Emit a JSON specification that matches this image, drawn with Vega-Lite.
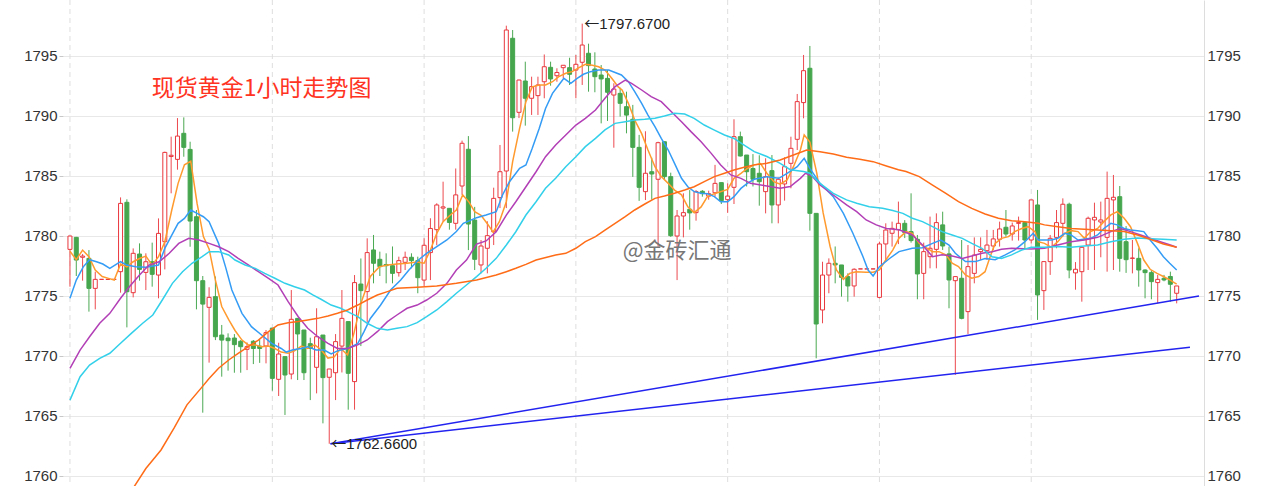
{
"$schema": "https://vega.github.io/schema/vega-lite/v6.json",
"width": 1141, "height": 486,
"autosize": {"type": "none"},
"padding": {"left": 63, "right": 64, "top": 0, "bottom": 0},
"background": "white",
"config": {"view": {"stroke": null}},
"datasets": {
"k": [
{"i":0,"o":1778.86,"h":1780.0,"l":1775.75,"c":1779.97},
{"i":1,"o":1779.86,"h":1779.9,"l":1776.64,"c":1777.97},
{"i":2,"o":1778.2,"h":1778.47,"l":1776.25,"c":1778.3},
{"i":3,"o":1778.11,"h":1778.8,"l":1773.67,"c":1775.61},
{"i":4,"o":1775.61,"h":1777.0,"l":1773.86,"c":1776.36},
{"i":5,"o":1776.36,"h":1776.36,"l":1776.36,"c":1776.36},
{"i":6,"o":1776.36,"h":1776.36,"l":1776.36,"c":1776.36},
{"i":7,"o":1776.36,"h":1776.36,"l":1776.36,"c":1776.36},
{"i":8,"o":1777.0,"h":1783.19,"l":1775.25,"c":1782.69},
{"i":9,"o":1782.78,"h":1783.03,"l":1772.36,"c":1775.33},
{"i":10,"o":1775.25,"h":1778.94,"l":1774.86,"c":1778.53},
{"i":11,"o":1778.47,"h":1779.36,"l":1776.25,"c":1777.19},
{"i":12,"o":1776.94,"h":1778.53,"l":1775.47,"c":1777.83},
{"i":13,"o":1777.83,"h":1779.42,"l":1775.75,"c":1776.78},
{"i":14,"o":1776.72,"h":1781.44,"l":1774.78,"c":1780.19},
{"i":15,"o":1779.5,"h":1787.0,"l":1777.19,"c":1786.94},
{"i":16,"o":1786.6,"h":1788.25,"l":1783.53,"c":1786.7},
{"i":17,"o":1786.36,"h":1789.8,"l":1785.5,"c":1788.3},
{"i":18,"o":1788.53,"h":1789.86,"l":1786.58,"c":1787.36},
{"i":19,"o":1787.19,"h":1787.83,"l":1779.08,"c":1781.22},
{"i":20,"o":1781.58,"h":1782.14,"l":1773.86,"c":1776.25},
{"i":21,"o":1776.25,"h":1776.64,"l":1765.25,"c":1774.3},
{"i":22,"o":1774.03,"h":1775.7,"l":1769.42,"c":1774.86},
{"i":23,"o":1774.92,"h":1776.6,"l":1771.3,"c":1771.58},
{"i":24,"o":1771.72,"h":1772.56,"l":1768.25,"c":1771.3},
{"i":25,"o":1771.47,"h":1771.86,"l":1768.75,"c":1771.25},
{"i":26,"o":1771.47,"h":1771.8,"l":1768.58,"c":1770.92},
{"i":27,"o":1771.2,"h":1771.3,"l":1768.58,"c":1770.75},
{"i":28,"o":1770.53,"h":1771.1,"l":1768.8,"c":1770.75},
{"i":29,"o":1771.2,"h":1771.3,"l":1769.3,"c":1770.6},
{"i":30,"o":1770.8,"h":1771.3,"l":1769.4,"c":1770.6},
{"i":31,"o":1770.81,"h":1772.14,"l":1769.36,"c":1771.92},
{"i":32,"o":1772.3,"h":1772.3,"l":1767.08,"c":1768.11},
{"i":33,"o":1768.03,"h":1771.08,"l":1766.64,"c":1770.14},
{"i":34,"o":1769.92,"h":1769.92,"l":1765.06,"c":1768.39},
{"i":35,"o":1768.47,"h":1775.47,"l":1768.03,"c":1773.03},
{"i":36,"o":1773.11,"h":1773.11,"l":1767.97,"c":1771.81},
{"i":37,"o":1772.14,"h":1772.14,"l":1767.97,"c":1768.58},
{"i":38,"o":1771.0,"h":1771.5,"l":1766.3,"c":1770.6},
{"i":39,"o":1769.03,"h":1773.95,"l":1766.86,"c":1771.58},
{"i":40,"o":1771.72,"h":1771.72,"l":1764.36,"c":1768.17},
{"i":41,"o":1768.2,"h":1768.9,"l":1762.66,"c":1768.89},
{"i":42,"o":1768.58,"h":1771.8,"l":1766.3,"c":1771.17},
{"i":43,"o":1770.8,"h":1775.47,"l":1768.6,"c":1773.11},
{"i":44,"o":1772.84,"h":1772.84,"l":1765.5,"c":1768.53},
{"i":45,"o":1767.84,"h":1776.72,"l":1765.5,"c":1776.09},
{"i":46,"o":1775.97,"h":1778.1,"l":1770.8,"c":1775.42},
{"i":47,"o":1775.34,"h":1779.78,"l":1772.75,"c":1778.59},
{"i":48,"o":1778.81,"h":1780.06,"l":1776.03,"c":1777.7},
{"i":49,"o":1778.03,"h":1778.67,"l":1776.64,"c":1777.42},
{"i":50,"o":1777.6,"h":1778.53,"l":1776.03,"c":1777.5},
{"i":51,"o":1777.5,"h":1779.1,"l":1776.03,"c":1776.86},
{"i":52,"o":1776.92,"h":1778.25,"l":1776.59,"c":1777.92},
{"i":53,"o":1777.78,"h":1778.67,"l":1777.14,"c":1778.2},
{"i":54,"o":1778.2,"h":1778.53,"l":1777.28,"c":1777.92},
{"i":55,"o":1777.92,"h":1778.25,"l":1775.2,"c":1776.5},
{"i":56,"o":1776.3,"h":1779.78,"l":1775.8,"c":1779.2},
{"i":57,"o":1778.59,"h":1781.45,"l":1776.3,"c":1780.6},
{"i":58,"o":1780.5,"h":1782.7,"l":1779.2,"c":1782.56},
{"i":59,"o":1782.3,"h":1784.5,"l":1781.17,"c":1782.4},
{"i":60,"o":1782.28,"h":1782.28,"l":1780.5,"c":1781.1},
{"i":61,"o":1781.03,"h":1785.6,"l":1780.5,"c":1783.4},
{"i":62,"o":1784.14,"h":1787.92,"l":1783.4,"c":1787.7},
{"i":63,"o":1787.2,"h":1788.3,"l":1778.8,"c":1780.97},
{"i":64,"o":1781.3,"h":1782.4,"l":1777.14,"c":1778.03},
{"i":65,"o":1777.56,"h":1779.64,"l":1776.86,"c":1779.14},
{"i":66,"o":1778.95,"h":1781.2,"l":1776.86,"c":1780.0},
{"i":67,"o":1780.33,"h":1784.0,"l":1779.22,"c":1783.11},
{"i":68,"o":1783.17,"h":1787.56,"l":1782.3,"c":1785.33},
{"i":69,"o":1785.39,"h":1797.5,"l":1782.3,"c":1797.14},
{"i":70,"o":1796.45,"h":1797.14,"l":1788.67,"c":1789.83},
{"i":71,"o":1790.28,"h":1793.0,"l":1789.8,"c":1792.97},
{"i":72,"o":1792.89,"h":1794.5,"l":1789.17,"c":1791.45},
{"i":73,"o":1791.45,"h":1793.25,"l":1790.06,"c":1792.42},
{"i":74,"o":1791.67,"h":1793.25,"l":1790.06,"c":1792.56},
{"i":75,"o":1792.83,"h":1795.1,"l":1791.45,"c":1794.08},
{"i":76,"o":1794.03,"h":1794.5,"l":1792.5,"c":1793.06},
{"i":77,"o":1793.33,"h":1793.95,"l":1792.83,"c":1793.6},
{"i":78,"o":1794.0,"h":1794.22,"l":1793.11,"c":1794.2},
{"i":79,"o":1794.0,"h":1794.83,"l":1792.56,"c":1793.45},
{"i":80,"o":1793.8,"h":1795.06,"l":1791.45,"c":1794.28},
{"i":81,"o":1794.45,"h":1797.67,"l":1792.56,"c":1795.89},
{"i":82,"o":1795.2,"h":1796.0,"l":1792.0,"c":1794.17},
{"i":83,"o":1793.89,"h":1795.28,"l":1791.95,"c":1793.25},
{"i":84,"o":1793.39,"h":1794.22,"l":1789.36,"c":1793.06},
{"i":85,"o":1793.11,"h":1793.8,"l":1789.56,"c":1791.95},
{"i":86,"o":1791.72,"h":1792.7,"l":1787.33,"c":1792.22},
{"i":87,"o":1791.86,"h":1792.33,"l":1789.92,"c":1791.03},
{"i":88,"o":1790.75,"h":1792.0,"l":1788.53,"c":1790.05},
{"i":89,"o":1789.7,"h":1790.9,"l":1784.9,"c":1787.36},
{"i":90,"o":1787.36,"h":1788.4,"l":1782.9,"c":1784.03},
{"i":91,"o":1783.67,"h":1788.7,"l":1782.97,"c":1785.2},
{"i":92,"o":1785.33,"h":1786.5,"l":1783.0,"c":1785.14},
{"i":93,"o":1784.7,"h":1787.83,"l":1779.08,"c":1787.75},
{"i":94,"o":1787.83,"h":1787.83,"l":1784.7,"c":1784.92},
{"i":95,"o":1784.92,"h":1785.25,"l":1779.9,"c":1780.0},
{"i":96,"o":1779.97,"h":1782.14,"l":1776.3,"c":1781.64},
{"i":97,"o":1781.64,"h":1783.53,"l":1779.86,"c":1781.92},
{"i":98,"o":1782.2,"h":1783.8,"l":1780.5,"c":1781.9},
{"i":99,"o":1781.92,"h":1783.8,"l":1781.25,"c":1783.67},
{"i":100,"o":1783.7,"h":1783.8,"l":1783.25,"c":1783.5},
{"i":101,"o":1783.3,"h":1783.75,"l":1783.0,"c":1783.5},
{"i":102,"o":1783.58,"h":1785.9,"l":1783.25,"c":1784.36},
{"i":103,"o":1784.42,"h":1784.42,"l":1782.64,"c":1782.92},
{"i":104,"o":1783.0,"h":1784.36,"l":1781.9,"c":1783.3},
{"i":105,"o":1784.03,"h":1789.7,"l":1782.64,"c":1788.25},
{"i":106,"o":1788.25,"h":1788.67,"l":1786.6,"c":1786.64},
{"i":107,"o":1786.72,"h":1786.72,"l":1784.1,"c":1785.33},
{"i":108,"o":1785.6,"h":1786.8,"l":1784.1,"c":1784.7},
{"i":109,"o":1785.2,"h":1786.7,"l":1782.5,"c":1784.5},
{"i":110,"o":1783.67,"h":1786.45,"l":1781.86,"c":1784.92},
{"i":111,"o":1785.42,"h":1786.72,"l":1781.03,"c":1782.56},
{"i":112,"o":1782.56,"h":1784.86,"l":1781.03,"c":1784.7},
{"i":113,"o":1784.31,"h":1786.53,"l":1782.92,"c":1785.75},
{"i":114,"o":1786.03,"h":1788.25,"l":1783.95,"c":1787.28},
{"i":115,"o":1788.03,"h":1791.81,"l":1787.14,"c":1791.17},
{"i":116,"o":1791.09,"h":1795.06,"l":1789.78,"c":1793.75},
{"i":117,"o":1793.95,"h":1795.81,"l":1780.42,"c":1781.86},
{"i":118,"o":1781.86,"h":1781.86,"l":1769.78,"c":1772.64},
{"i":119,"o":1773.81,"h":1777.83,"l":1772.7,"c":1776.72},
{"i":120,"o":1776.72,"h":1778.11,"l":1775.2,"c":1777.7},
{"i":121,"o":1777.7,"h":1779.1,"l":1776.03,"c":1777.56},
{"i":122,"o":1777.56,"h":1777.56,"l":1774.92,"c":1776.53},
{"i":123,"o":1776.59,"h":1776.86,"l":1774.5,"c":1775.81},
{"i":124,"o":1775.81,"h":1777.28,"l":1774.92,"c":1777.2},
{"i":125,"o":1777.23,"h":1777.23,"l":1777.23,"c":1777.23},
{"i":126,"o":1777.23,"h":1777.23,"l":1777.23,"c":1777.23},
{"i":127,"o":1777.23,"h":1777.23,"l":1777.23,"c":1777.23},
{"i":128,"o":1774.86,"h":1779.5,"l":1774.78,"c":1779.31},
{"i":129,"o":1779.31,"h":1781.03,"l":1777.84,"c":1780.47},
{"i":130,"o":1780.2,"h":1781.17,"l":1779.09,"c":1780.61},
{"i":131,"o":1780.5,"h":1782.84,"l":1779.3,"c":1781.03},
{"i":132,"o":1781.03,"h":1781.3,"l":1779.8,"c":1780.25},
{"i":133,"o":1780.34,"h":1783.53,"l":1779.42,"c":1779.59},
{"i":134,"o":1779.7,"h":1780.06,"l":1774.7,"c":1776.81},
{"i":135,"o":1776.86,"h":1779.42,"l":1774.7,"c":1778.67},
{"i":136,"o":1778.25,"h":1781.59,"l":1777.28,"c":1778.95},
{"i":137,"o":1778.86,"h":1781.86,"l":1777.28,"c":1781.09},
{"i":138,"o":1780.9,"h":1782.0,"l":1778.81,"c":1779.14},
{"i":139,"o":1778.48,"h":1779.09,"l":1773.95,"c":1776.31},
{"i":140,"o":1776.25,"h":1776.59,"l":1768.4,"c":1776.59},
{"i":141,"o":1776.45,"h":1779.64,"l":1773.03,"c":1773.11},
{"i":142,"o":1773.67,"h":1779.22,"l":1771.81,"c":1777.42},
{"i":143,"o":1776.86,"h":1779.86,"l":1776.03,"c":1778.39},
{"i":144,"o":1778.67,"h":1779.86,"l":1777.98,"c":1778.86},
{"i":145,"o":1778.75,"h":1780.48,"l":1777.98,"c":1779.22},
{"i":146,"o":1779.14,"h":1780.48,"l":1778.81,"c":1779.73},
{"i":147,"o":1779.7,"h":1781.17,"l":1779.09,"c":1780.56},
{"i":148,"o":1780.7,"h":1782.14,"l":1779.92,"c":1780.14},
{"i":149,"o":1780.14,"h":1781.09,"l":1779.59,"c":1780.81},
{"i":150,"o":1781.03,"h":1781.59,"l":1779.59,"c":1781.09},
{"i":151,"o":1781.09,"h":1781.17,"l":1778.95,"c":1779.64},
{"i":152,"o":1779.64,"h":1782.98,"l":1779.36,"c":1782.98},
{"i":153,"o":1782.56,"h":1783.81,"l":1772.98,"c":1775.06},
{"i":154,"o":1775.42,"h":1777.84,"l":1773.81,"c":1777.84},
{"i":155,"o":1777.84,"h":1780.06,"l":1776.73,"c":1779.78},
{"i":156,"o":1779.86,"h":1782.14,"l":1778.95,"c":1781.09},
{"i":157,"o":1781.03,"h":1783.11,"l":1779.92,"c":1782.62},
{"i":158,"o":1782.62,"h":1782.75,"l":1776.45,"c":1777.14},
{"i":159,"o":1776.9,"h":1777.8,"l":1775.5,"c":1777.2},
{"i":160,"o":1777.0,"h":1779.03,"l":1774.5,"c":1779.03},
{"i":161,"o":1779.22,"h":1781.59,"l":1777.14,"c":1781.45},
{"i":162,"o":1781.31,"h":1782.75,"l":1777.14,"c":1781.53},
{"i":163,"o":1781.14,"h":1782.84,"l":1778.2,"c":1781.31},
{"i":164,"o":1779.86,"h":1785.34,"l":1777.0,"c":1783.11},
{"i":165,"o":1782.98,"h":1785.06,"l":1777.14,"c":1783.2},
{"i":166,"o":1783.25,"h":1784.14,"l":1777.0,"c":1778.11},
{"i":167,"o":1779.5,"h":1780.8,"l":1776.9,"c":1778.0},
{"i":168,"o":1778.11,"h":1779.64,"l":1776.86,"c":1778.14},
{"i":169,"o":1778.11,"h":1778.95,"l":1775.75,"c":1777.14},
{"i":170,"o":1777.14,"h":1777.2,"l":1774.78,"c":1776.92},
{"i":171,"o":1776.92,"h":1777.14,"l":1774.7,"c":1776.17},
{"i":172,"o":1776.09,"h":1776.73,"l":1774.36,"c":1776.36},
{"i":173,"o":1776.45,"h":1776.73,"l":1776.2,"c":1776.31},
{"i":174,"o":1776.6,"h":1777.0,"l":1774.5,"c":1775.95},
{"i":175,"o":1775.2,"h":1775.81,"l":1774.36,"c":1775.81}
],
"ma": [
{"s":"MA5","i":0,"v":1778.7},{"s":"MA5","i":1,"v":1778.0},{"s":"MA5","i":2,"v":1778.8},{"s":"MA5","i":3,"v":1778.25},{"s":"MA5","i":4,"v":1777.14},{"s":"MA5","i":5.1,"v":1776.6},{"s":"MA5","i":6.1,"v":1776.44},{"s":"MA5","i":7,"v":1776.3},{"s":"MA5","i":8,"v":1777.64},{"s":"MA5","i":9,"v":1777.4},{"s":"MA5","i":10,"v":1777.83},{"s":"MA5","i":11,"v":1778.1},{"s":"MA5","i":12,"v":1778.3},{"s":"MA5","i":13,"v":1777.55},{"s":"MA5","i":14,"v":1778.25},{"s":"MA5","i":15,"v":1779.5},{"s":"MA5","i":16.1,"v":1782.14},{"s":"MA5","i":17.1,"v":1784.36},{"s":"MA5","i":18.1,"v":1785.9},{"s":"MA5","i":19.1,"v":1786.2},{"s":"MA5","i":20.1,"v":1782.69},{"s":"MA5","i":21.1,"v":1779.92},{"s":"MA5","i":22,"v":1778.9},{"s":"MA5","i":23,"v":1776.3},{"s":"MA5","i":24,"v":1774.1},{"s":"MA5","i":25.1,"v":1773.0},{"s":"MA5","i":26.1,"v":1772.1},{"s":"MA5","i":27.2,"v":1771.3},{"s":"MA5","i":28.2,"v":1770.9},{"s":"MA5","i":29.3,"v":1770.9},{"s":"MA5","i":30.3,"v":1770.75},{"s":"MA5","i":31.4,"v":1770.8},{"s":"MA5","i":32.4,"v":1770.6},{"s":"MA5","i":33.4,"v":1770.3},{"s":"MA5","i":34.5,"v":1770.2},{"s":"MA5","i":35.5,"v":1770.4},{"s":"MA5","i":36.6,"v":1770.8},{"s":"MA5","i":37.6,"v":1770.6},{"s":"MA5","i":38.7,"v":1770.9},{"s":"MA5","i":39.7,"v":1770.5},{"s":"MA5","i":40.8,"v":1769.8},{"s":"MA5","i":41.8,"v":1769.9},{"s":"MA5","i":42.8,"v":1770.6},{"s":"MA5","i":43.9,"v":1770.06},{"s":"MA5","i":44.9,"v":1771.86},{"s":"MA5","i":46,"v":1774.36},{"s":"MA5","i":47.5,"v":1776.6},{"s":"MA5","i":48.9,"v":1777.4},{"s":"MA5","i":50.2,"v":1777.56},{"s":"MA5","i":51.7,"v":1777.64},{"s":"MA5","i":53.3,"v":1777.7},{"s":"MA5","i":54.9,"v":1777.8},{"s":"MA5","i":56,"v":1777.7},{"s":"MA5","i":57,"v":1778.8},{"s":"MA5","i":58,"v":1780.2},{"s":"MA5","i":59,"v":1781.17},{"s":"MA5","i":60.1,"v":1781.7},{"s":"MA5","i":61.1,"v":1782.14},{"s":"MA5","i":62.1,"v":1783.39},{"s":"MA5","i":63.1,"v":1782.8},{"s":"MA5","i":64,"v":1782.0},{"s":"MA5","i":65,"v":1781.7},{"s":"MA5","i":66,"v":1781.0},{"s":"MA5","i":66.9,"v":1780.3},{"s":"MA5","i":67.9,"v":1781.17},{"s":"MA5","i":69,"v":1782.83},{"s":"MA5","i":70,"v":1786.17},{"s":"MA5","i":71.1,"v":1788.94},{"s":"MA5","i":72.1,"v":1791.17},{"s":"MA5","i":73.1,"v":1792.4},{"s":"MA5","i":74.2,"v":1792.56},{"s":"MA5","i":75.2,"v":1792.56},{"s":"MA5","i":76.3,"v":1792.83},{"s":"MA5","i":77.3,"v":1793.25},{"s":"MA5","i":78.4,"v":1793.53},{"s":"MA5","i":79.4,"v":1793.67},{"s":"MA5","i":80.5,"v":1794.0},{"s":"MA5","i":81.5,"v":1794.28},{"s":"MA5","i":82.6,"v":1794.2},{"s":"MA5","i":83.6,"v":1794.08},{"s":"MA5","i":84.6,"v":1793.8},{"s":"MA5","i":85.7,"v":1793.1},{"s":"MA5","i":86.7,"v":1792.4},{"s":"MA5","i":87.3,"v":1792.14},{"s":"MA5","i":88.3,"v":1791.03},{"s":"MA5","i":89.3,"v":1789.64},{"s":"MA5","i":90.4,"v":1788.5},{"s":"MA5","i":91.4,"v":1787.14},{"s":"MA5","i":92.5,"v":1785.75},{"s":"MA5","i":93.5,"v":1784.92},{"s":"MA5","i":94.6,"v":1784.36},{"s":"MA5","i":95.6,"v":1783.8},{"s":"MA5","i":96.7,"v":1783.4},{"s":"MA5","i":97.7,"v":1782.4},{"s":"MA5","i":98.7,"v":1781.92},{"s":"MA5","i":99.8,"v":1782.4},{"s":"MA5","i":100.8,"v":1783.25},{"s":"MA5","i":101.9,"v":1783.5},{"s":"MA5","i":104,"v":1783.86},{"s":"MA5","i":105,"v":1784.78},{"s":"MA5","i":106.1,"v":1785.2},{"s":"MA5","i":107.1,"v":1785.6},{"s":"MA5","i":108.2,"v":1785.9},{"s":"MA5","i":109.2,"v":1786.0},{"s":"MA5","i":110.2,"v":1785.2},{"s":"MA5","i":111.3,"v":1784.5},{"s":"MA5","i":112.3,"v":1784.3},{"s":"MA5","i":113.4,"v":1784.64},{"s":"MA5","i":114.4,"v":1785.75},{"s":"MA5","i":115.5,"v":1787.14},{"s":"MA5","i":116.1,"v":1788.4},{"s":"MA5","i":117,"v":1787.8},{"s":"MA5","i":118.1,"v":1785.2},{"s":"MA5","i":119.1,"v":1781.9},{"s":"MA5","i":120.2,"v":1779.1},{"s":"MA5","i":121.2,"v":1777.14},{"s":"MA5","i":122.3,"v":1776.36},{"s":"MA5","i":123.3,"v":1776.86},{"s":"MA5","i":124.3,"v":1777.0},{"s":"MA5","i":125.9,"v":1776.95},{"s":"MA5","i":127,"v":1776.95},{"s":"MA5","i":128,"v":1777.14},{"s":"MA5","i":129,"v":1777.97},{"s":"MA5","i":130.1,"v":1778.8},{"s":"MA5","i":131.1,"v":1779.8},{"s":"MA5","i":132.2,"v":1780.34},{"s":"MA5","i":133.2,"v":1780.2},{"s":"MA5","i":134.3,"v":1779.36},{"s":"MA5","i":135.3,"v":1779.03},{"s":"MA5","i":136.4,"v":1778.67},{"s":"MA5","i":137.4,"v":1778.67},{"s":"MA5","i":138.5,"v":1778.4},{"s":"MA5","i":139.5,"v":1777.7},{"s":"MA5","i":140.5,"v":1777.42},{"s":"MA5","i":141.6,"v":1776.73},{"s":"MA5","i":142.6,"v":1776.45},{"s":"MA5","i":143.7,"v":1776.6},{"s":"MA5","i":144.7,"v":1777.0},{"s":"MA5","i":145.5,"v":1778.25},{"s":"MA5","i":146.3,"v":1779.36},{"s":"MA5","i":147.3,"v":1779.78},{"s":"MA5","i":148.4,"v":1779.92},{"s":"MA5","i":149.4,"v":1780.34},{"s":"MA5","i":150.5,"v":1780.6},{"s":"MA5","i":151.5,"v":1780.75},{"s":"MA5","i":152.6,"v":1780.34},{"s":"MA5","i":153.1,"v":1779.5},{"s":"MA5","i":154.1,"v":1779.36},{"s":"MA5","i":155.2,"v":1779.03},{"s":"MA5","i":156.2,"v":1779.5},{"s":"MA5","i":157.3,"v":1780.2},{"s":"MA5","i":158.3,"v":1780.42},{"s":"MA5","i":159.4,"v":1780.34},{"s":"MA5","i":160.4,"v":1779.78},{"s":"MA5","i":161.4,"v":1780.34},{"s":"MA5","i":162.5,"v":1780.6},{"s":"MA5","i":163.5,"v":1781.17},{"s":"MA5","i":164.6,"v":1781.73},{"s":"MA5","i":165.6,"v":1782.0},{"s":"MA5","i":166.7,"v":1781.45},{"s":"MA5","i":167.7,"v":1780.75},{"s":"MA5","i":168.8,"v":1779.36},{"s":"MA5","i":169.8,"v":1777.97},{"s":"MA5","i":170.8,"v":1777.2},{"s":"MA5","i":171.9,"v":1776.86},{"s":"MA5","i":172.9,"v":1776.6},{"s":"MA5","i":173.9,"v":1776.31},{"s":"MA5","i":175,"v":1775.97},
{"s":"MA10","i":0,"v":1774.78},{"s":"MA10","i":1,"v":1776.3},{"s":"MA10","i":2.1,"v":1777.4},{"s":"MA10","i":3.1,"v":1778.0},{"s":"MA10","i":4.2,"v":1777.83},{"s":"MA10","i":5.2,"v":1777.64},{"s":"MA10","i":6.3,"v":1777.28},{"s":"MA10","i":8,"v":1777.83},{"s":"MA10","i":9,"v":1777.55},{"s":"MA10","i":10.4,"v":1777.42},{"s":"MA10","i":12,"v":1777.36},{"s":"MA10","i":14,"v":1777.55},{"s":"MA10","i":15,"v":1778.94},{"s":"MA10","i":16.1,"v":1780.05},{"s":"MA10","i":17.1,"v":1781.03},{"s":"MA10","i":18.1,"v":1781.44},{"s":"MA10","i":19.1,"v":1782.14},{"s":"MA10","i":20.1,"v":1781.86},{"s":"MA10","i":21.1,"v":1781.58},{"s":"MA10","i":22,"v":1781.17},{"s":"MA10","i":23.5,"v":1779.36},{"s":"MA10","i":24.6,"v":1777.4},{"s":"MA10","i":25.6,"v":1775.47},{"s":"MA10","i":27.2,"v":1773.53},{"s":"MA10","i":28.7,"v":1772.42},{"s":"MA10","i":30.3,"v":1771.72},{"s":"MA10","i":31.9,"v":1771.03},{"s":"MA10","i":33.4,"v":1770.6},{"s":"MA10","i":34.2,"v":1770.3},{"s":"MA10","i":35.3,"v":1770.5},{"s":"MA10","i":36.6,"v":1770.6},{"s":"MA10","i":37.6,"v":1770.75},{"s":"MA10","i":38.9,"v":1770.47},{"s":"MA10","i":40.2,"v":1770.47},{"s":"MA10","i":41.3,"v":1770.14},{"s":"MA10","i":42.3,"v":1770.4},{"s":"MA10","i":43.9,"v":1770.6},{"s":"MA10","i":45.5,"v":1771.0},{"s":"MA10","i":46.5,"v":1772.0},{"s":"MA10","i":47.5,"v":1773.1},{"s":"MA10","i":49.1,"v":1774.2},{"s":"MA10","i":50.7,"v":1775.47},{"s":"MA10","i":52.3,"v":1776.3},{"s":"MA10","i":53.6,"v":1777.14},{"s":"MA10","i":55.1,"v":1777.97},{"s":"MA10","i":56.4,"v":1778.53},{"s":"MA10","i":58,"v":1779.09},{"s":"MA10","i":59.6,"v":1779.64},{"s":"MA10","i":61.1,"v":1780.34},{"s":"MA10","i":62.2,"v":1781.03},{"s":"MA10","i":63.2,"v":1781.25},{"s":"MA10","i":64.3,"v":1781.5},{"s":"MA10","i":65.8,"v":1781.72},{"s":"MA10","i":67.4,"v":1782.0},{"s":"MA10","i":68.4,"v":1783.39},{"s":"MA10","i":69.5,"v":1784.5},{"s":"MA10","i":71.1,"v":1785.61},{"s":"MA10","i":72.1,"v":1785.89},{"s":"MA10","i":73.1,"v":1787.28},{"s":"MA10","i":74.2,"v":1788.94},{"s":"MA10","i":75.2,"v":1790.6},{"s":"MA10","i":76.3,"v":1791.86},{"s":"MA10","i":77.3,"v":1792.56},{"s":"MA10","i":78.1,"v":1793.11},{"s":"MA10","i":79.2,"v":1792.7},{"s":"MA10","i":80.2,"v":1793.11},{"s":"MA10","i":81.2,"v":1793.45},{"s":"MA10","i":82.3,"v":1793.67},{"s":"MA10","i":83.6,"v":1793.8},{"s":"MA10","i":85.2,"v":1793.8},{"s":"MA10","i":87.2,"v":1793.39},{"s":"MA10","i":88.3,"v":1792.83},{"s":"MA10","i":89.3,"v":1792.0},{"s":"MA10","i":90.4,"v":1791.03},{"s":"MA10","i":91.4,"v":1790.05},{"s":"MA10","i":92.5,"v":1789.08},{"s":"MA10","i":93.5,"v":1788.1},{"s":"MA10","i":94.6,"v":1787.14},{"s":"MA10","i":95.6,"v":1786.03},{"s":"MA10","i":96.7,"v":1784.78},{"s":"MA10","i":97.7,"v":1784.08},{"s":"MA10","i":98.7,"v":1783.67},{"s":"MA10","i":99.8,"v":1783.53},{"s":"MA10","i":100.8,"v":1783.5},{"s":"MA10","i":101.9,"v":1783.25},{"s":"MA10","i":102.9,"v":1782.83},{"s":"MA10","i":104,"v":1782.83},{"s":"MA10","i":105,"v":1783.25},{"s":"MA10","i":106.1,"v":1783.94},{"s":"MA10","i":107.1,"v":1784.36},{"s":"MA10","i":108.2,"v":1784.7},{"s":"MA10","i":110.2,"v":1784.92},{"s":"MA10","i":112.1,"v":1784.78},{"s":"MA10","i":113.4,"v":1785.2},{"s":"MA10","i":115,"v":1785.75},{"s":"MA10","i":116.1,"v":1786.45},{"s":"MA10","i":117,"v":1785.6},{"s":"MA10","i":118.6,"v":1784.36},{"s":"MA10","i":120.7,"v":1783.25},{"s":"MA10","i":122.3,"v":1781.86},{"s":"MA10","i":123.8,"v":1780.2},{"s":"MA10","i":125.4,"v":1778.25},{"s":"MA10","i":126.2,"v":1777.14},{"s":"MA10","i":127,"v":1776.64},{"s":"MA10","i":128,"v":1777.42},{"s":"MA10","i":129.6,"v":1778.1},{"s":"MA10","i":131.1,"v":1778.67},{"s":"MA10","i":133.2,"v":1778.95},{"s":"MA10","i":134.8,"v":1779.0},{"s":"MA10","i":136.4,"v":1779.36},{"s":"MA10","i":137.7,"v":1779.64},{"s":"MA10","i":139,"v":1779.22},{"s":"MA10","i":140,"v":1778.53},{"s":"MA10","i":141.6,"v":1777.84},{"s":"MA10","i":143.2,"v":1777.84},{"s":"MA10","i":144.7,"v":1778.1},{"s":"MA10","i":146.3,"v":1778.0},{"s":"MA10","i":147.9,"v":1778.4},{"s":"MA10","i":149.4,"v":1778.81},{"s":"MA10","i":151,"v":1779.5},{"s":"MA10","i":152.3,"v":1780.2},{"s":"MA10","i":153.1,"v":1779.64},{"s":"MA10","i":155.2,"v":1779.64},{"s":"MA10","i":156.2,"v":1779.78},{"s":"MA10","i":157.3,"v":1780.2},{"s":"MA10","i":158.3,"v":1780.06},{"s":"MA10","i":159.4,"v":1779.64},{"s":"MA10","i":161.4,"v":1779.78},{"s":"MA10","i":162.5,"v":1780.06},{"s":"MA10","i":163.5,"v":1780.6},{"s":"MA10","i":164.6,"v":1781.03},{"s":"MA10","i":165.6,"v":1780.9},{"s":"MA10","i":166.7,"v":1780.6},{"s":"MA10","i":167.7,"v":1780.48},{"s":"MA10","i":168.8,"v":1780.42},{"s":"MA10","i":169.8,"v":1780.34},{"s":"MA10","i":170.8,"v":1779.64},{"s":"MA10","i":171.9,"v":1778.95},{"s":"MA10","i":172.9,"v":1778.25},{"s":"MA10","i":173.9,"v":1777.7},{"s":"MA10","i":175,"v":1777.14},
{"s":"MA20","i":0,"v":1768.94},{"s":"MA20","i":1.6,"v":1770.47},{"s":"MA20","i":3.1,"v":1771.58},{"s":"MA20","i":4.7,"v":1772.7},{"s":"MA20","i":6.3,"v":1773.53},{"s":"MA20","i":8,"v":1774.78},{"s":"MA20","i":9.4,"v":1775.75},{"s":"MA20","i":11,"v":1776.72},{"s":"MA20","i":12.5,"v":1777.55},{"s":"MA20","i":14.1,"v":1777.83},{"s":"MA20","i":15.7,"v":1778.53},{"s":"MA20","i":17.2,"v":1779.36},{"s":"MA20","i":18.8,"v":1779.78},{"s":"MA20","i":20.4,"v":1779.64},{"s":"MA20","i":22,"v":1779.36},{"s":"MA20","i":23.5,"v":1779.08},{"s":"MA20","i":25.1,"v":1778.67},{"s":"MA20","i":26.6,"v":1778.11},{"s":"MA20","i":28.2,"v":1777.56},{"s":"MA20","i":29.8,"v":1777.0},{"s":"MA20","i":31.4,"v":1776.45},{"s":"MA20","i":32.9,"v":1775.89},{"s":"MA20","i":34.5,"v":1774.5},{"s":"MA20","i":36.1,"v":1773.25},{"s":"MA20","i":37.6,"v":1772.28},{"s":"MA20","i":39.2,"v":1771.58},{"s":"MA20","i":40.8,"v":1771.03},{"s":"MA20","i":42.3,"v":1770.6},{"s":"MA20","i":43.9,"v":1770.6},{"s":"MA20","i":45.5,"v":1770.9},{"s":"MA20","i":47,"v":1771.31},{"s":"MA20","i":48.6,"v":1772.0},{"s":"MA20","i":50.2,"v":1772.84},{"s":"MA20","i":51.7,"v":1773.39},{"s":"MA20","i":53.3,"v":1773.95},{"s":"MA20","i":54.9,"v":1774.22},{"s":"MA20","i":56.4,"v":1774.64},{"s":"MA20","i":58,"v":1775.2},{"s":"MA20","i":59.6,"v":1776.03},{"s":"MA20","i":61.1,"v":1777.14},{"s":"MA20","i":62.7,"v":1777.97},{"s":"MA20","i":64.3,"v":1779.3},{"s":"MA20","i":65.8,"v":1779.56},{"s":"MA20","i":67.4,"v":1780.33},{"s":"MA20","i":69,"v":1781.72},{"s":"MA20","i":70.5,"v":1782.83},{"s":"MA20","i":72.1,"v":1784.08},{"s":"MA20","i":73.7,"v":1785.33},{"s":"MA20","i":75.2,"v":1786.58},{"s":"MA20","i":76.8,"v":1787.56},{"s":"MA20","i":78.4,"v":1788.39},{"s":"MA20","i":80,"v":1789.22},{"s":"MA20","i":81.5,"v":1789.78},{"s":"MA20","i":83.1,"v":1790.47},{"s":"MA20","i":84.6,"v":1791.45},{"s":"MA20","i":86.2,"v":1792.42},{"s":"MA20","i":87.8,"v":1792.97},{"s":"MA20","i":88.8,"v":1792.7},{"s":"MA20","i":90.4,"v":1792.14},{"s":"MA20","i":91.9,"v":1791.58},{"s":"MA20","i":93.5,"v":1791.17},{"s":"MA20","i":95.1,"v":1790.33},{"s":"MA20","i":96.7,"v":1789.5},{"s":"MA20","i":98.2,"v":1788.67},{"s":"MA20","i":99.8,"v":1787.83},{"s":"MA20","i":101.4,"v":1786.86},{"s":"MA20","i":102.9,"v":1785.89},{"s":"MA20","i":104.5,"v":1785.06},{"s":"MA20","i":106.1,"v":1784.78},{"s":"MA20","i":107.6,"v":1784.36},{"s":"MA20","i":110.2,"v":1784.14},{"s":"MA20","i":112.3,"v":1783.95},{"s":"MA20","i":113.9,"v":1784.1},{"s":"MA20","i":115.5,"v":1784.78},{"s":"MA20","i":116.3,"v":1785.2},{"s":"MA20","i":117.3,"v":1785.0},{"s":"MA20","i":118.6,"v":1784.22},{"s":"MA20","i":120.7,"v":1783.39},{"s":"MA20","i":122.8,"v":1782.56},{"s":"MA20","i":124.4,"v":1782.0},{"s":"MA20","i":125.9,"v":1781.31},{"s":"MA20","i":127.5,"v":1780.9},{"s":"MA20","i":129.1,"v":1780.6},{"s":"MA20","i":131.1,"v":1780.5},{"s":"MA20","i":133.2,"v":1780.06},{"s":"MA20","i":134.8,"v":1779.22},{"s":"MA20","i":136.4,"v":1778.25},{"s":"MA20","i":137.9,"v":1778.4},{"s":"MA20","i":139.5,"v":1778.3},{"s":"MA20","i":141.1,"v":1778.11},{"s":"MA20","i":142.6,"v":1778.3},{"s":"MA20","i":144.2,"v":1778.53},{"s":"MA20","i":145.8,"v":1778.67},{"s":"MA20","i":147.3,"v":1778.86},{"s":"MA20","i":148.9,"v":1778.95},{"s":"MA20","i":152,"v":1778.9},{"s":"MA20","i":154.1,"v":1778.95},{"s":"MA20","i":156.2,"v":1779.22},{"s":"MA20","i":158.3,"v":1779.5},{"s":"MA20","i":160.4,"v":1779.64},{"s":"MA20","i":162.5,"v":1779.86},{"s":"MA20","i":164.6,"v":1780.34},{"s":"MA20","i":166.1,"v":1780.6},{"s":"MA20","i":167.7,"v":1780.34},{"s":"MA20","i":169.3,"v":1780.06},{"s":"MA20","i":170.8,"v":1779.78},{"s":"MA20","i":172.4,"v":1779.5},{"s":"MA20","i":174,"v":1779.22},{"s":"MA20","i":175,"v":1779.03},
{"s":"MA30","i":0,"v":1766.3},{"s":"MA30","i":1.6,"v":1768.25},{"s":"MA30","i":3.1,"v":1769.22},{"s":"MA30","i":4.7,"v":1769.78},{"s":"MA30","i":6.3,"v":1770.2},{"s":"MA30","i":8,"v":1771.03},{"s":"MA30","i":9.7,"v":1771.86},{"s":"MA30","i":11.5,"v":1772.7},{"s":"MA30","i":13.1,"v":1773.39},{"s":"MA30","i":14.6,"v":1774.64},{"s":"MA30","i":16.2,"v":1776.03},{"s":"MA30","i":17.8,"v":1777.0},{"s":"MA30","i":19.3,"v":1777.7},{"s":"MA30","i":20.9,"v":1778.25},{"s":"MA30","i":22,"v":1778.67},{"s":"MA30","i":23.5,"v":1778.67},{"s":"MA30","i":25.1,"v":1778.39},{"s":"MA30","i":26.1,"v":1777.97},{"s":"MA30","i":27.7,"v":1777.56},{"s":"MA30","i":29.3,"v":1777.28},{"s":"MA30","i":30.8,"v":1776.86},{"s":"MA30","i":32.4,"v":1776.45},{"s":"MA30","i":34,"v":1776.03},{"s":"MA30","i":35.5,"v":1775.75},{"s":"MA30","i":37.1,"v":1775.47},{"s":"MA30","i":38.4,"v":1775.06},{"s":"MA30","i":39.7,"v":1774.7},{"s":"MA30","i":41.3,"v":1774.22},{"s":"MA30","i":42.8,"v":1773.95},{"s":"MA30","i":43.9,"v":1773.67},{"s":"MA30","i":45.5,"v":1773.25},{"s":"MA30","i":47,"v":1772.7},{"s":"MA30","i":48.6,"v":1772.28},{"s":"MA30","i":50.2,"v":1772.14},{"s":"MA30","i":51.7,"v":1772.28},{"s":"MA30","i":53.3,"v":1772.42},{"s":"MA30","i":54.9,"v":1772.75},{"s":"MA30","i":56.4,"v":1773.25},{"s":"MA30","i":58,"v":1773.81},{"s":"MA30","i":59.6,"v":1774.5},{"s":"MA30","i":61.1,"v":1775.2},{"s":"MA30","i":62.7,"v":1775.89},{"s":"MA30","i":64.3,"v":1776.59},{"s":"MA30","i":65.8,"v":1777.28},{"s":"MA30","i":67.4,"v":1778.11},{"s":"MA30","i":69,"v":1779.22},{"s":"MA30","i":70.5,"v":1780.33},{"s":"MA30","i":72.1,"v":1781.72},{"s":"MA30","i":73.7,"v":1782.83},{"s":"MA30","i":75.2,"v":1783.95},{"s":"MA30","i":76.8,"v":1784.78},{"s":"MA30","i":78.4,"v":1785.75},{"s":"MA30","i":80,"v":1786.58},{"s":"MA30","i":81.5,"v":1787.42},{"s":"MA30","i":83.1,"v":1788.11},{"s":"MA30","i":84.6,"v":1788.81},{"s":"MA30","i":86.2,"v":1789.36},{"s":"MA30","i":87.8,"v":1789.5},{"s":"MA30","i":89.3,"v":1789.64},{"s":"MA30","i":90.9,"v":1789.7},{"s":"MA30","i":92.5,"v":1789.78},{"s":"MA30","i":94,"v":1789.97},{"s":"MA30","i":95.6,"v":1790.2},{"s":"MA30","i":97.2,"v":1790.14},{"s":"MA30","i":98.7,"v":1789.78},{"s":"MA30","i":100.3,"v":1789.22},{"s":"MA30","i":101.9,"v":1788.8},{"s":"MA30","i":103.5,"v":1788.39},{"s":"MA30","i":105,"v":1788.1},{"s":"MA30","i":106.6,"v":1787.55},{"s":"MA30","i":108.2,"v":1787.0},{"s":"MA30","i":110.2,"v":1786.6},{"s":"MA30","i":112.3,"v":1786.03},{"s":"MA30","i":113.9,"v":1785.5},{"s":"MA30","i":116,"v":1785.34},{"s":"MA30","i":117,"v":1785.2},{"s":"MA30","i":118.6,"v":1784.36},{"s":"MA30","i":120.7,"v":1783.53},{"s":"MA30","i":122.8,"v":1782.98},{"s":"MA30","i":124.4,"v":1782.7},{"s":"MA30","i":126.4,"v":1782.42},{"s":"MA30","i":128.5,"v":1782.28},{"s":"MA30","i":130.1,"v":1782.09},{"s":"MA30","i":131.7,"v":1781.86},{"s":"MA30","i":133.2,"v":1781.45},{"s":"MA30","i":134.8,"v":1781.17},{"s":"MA30","i":136.4,"v":1780.75},{"s":"MA30","i":137.9,"v":1780.34},{"s":"MA30","i":139.5,"v":1780.06},{"s":"MA30","i":141.1,"v":1779.78},{"s":"MA30","i":142.6,"v":1779.36},{"s":"MA30","i":144.2,"v":1778.95},{"s":"MA30","i":145.8,"v":1778.25},{"s":"MA30","i":147.3,"v":1778.11},{"s":"MA30","i":148.9,"v":1778.4},{"s":"MA30","i":150.5,"v":1778.81},{"s":"MA30","i":152,"v":1779.03},{"s":"MA30","i":154.1,"v":1779.03},{"s":"MA30","i":156.2,"v":1779.09},{"s":"MA30","i":158.3,"v":1779.03},{"s":"MA30","i":160.4,"v":1779.14},{"s":"MA30","i":162.5,"v":1779.22},{"s":"MA30","i":164.6,"v":1779.5},{"s":"MA30","i":166.7,"v":1779.7},{"s":"MA30","i":168.8,"v":1779.8},{"s":"MA30","i":170.8,"v":1779.75},{"s":"MA30","i":172.9,"v":1779.7},{"s":"MA30","i":175,"v":1779.65},
{"s":"MA60","i":9.8,"v":1758.8},{"s":"MA60","i":12,"v":1760.6},{"s":"MA60","i":14.4,"v":1762.14},{"s":"MA60","i":16.5,"v":1764.0},{"s":"MA60","i":18.5,"v":1765.9},{"s":"MA60","i":20.9,"v":1767.4},{"s":"MA60","i":22,"v":1768.1},{"s":"MA60","i":23.5,"v":1768.95},{"s":"MA60","i":25.1,"v":1769.64},{"s":"MA60","i":26.6,"v":1770.2},{"s":"MA60","i":28.2,"v":1770.75},{"s":"MA60","i":29.8,"v":1771.3},{"s":"MA60","i":31.4,"v":1772.0},{"s":"MA60","i":32.9,"v":1772.56},{"s":"MA60","i":34.5,"v":1772.75},{"s":"MA60","i":36.1,"v":1772.84},{"s":"MA60","i":37.6,"v":1772.97},{"s":"MA60","i":39.2,"v":1773.11},{"s":"MA60","i":40.8,"v":1773.3},{"s":"MA60","i":42.3,"v":1773.53},{"s":"MA60","i":43.9,"v":1773.81},{"s":"MA60","i":45.5,"v":1774.22},{"s":"MA60","i":47,"v":1774.64},{"s":"MA60","i":48.6,"v":1775.06},{"s":"MA60","i":50.2,"v":1775.34},{"s":"MA60","i":51.7,"v":1775.61},{"s":"MA60","i":54.9,"v":1775.7},{"s":"MA60","i":58,"v":1775.81},{"s":"MA60","i":61.1,"v":1776.03},{"s":"MA60","i":64.3,"v":1776.3},{"s":"MA60","i":67.4,"v":1776.72},{"s":"MA60","i":69,"v":1777.0},{"s":"MA60","i":70.5,"v":1777.28},{"s":"MA60","i":72.1,"v":1777.61},{"s":"MA60","i":73.7,"v":1777.97},{"s":"MA60","i":76.8,"v":1778.39},{"s":"MA60","i":78.4,"v":1778.53},{"s":"MA60","i":80,"v":1778.95},{"s":"MA60","i":81.5,"v":1779.5},{"s":"MA60","i":83.1,"v":1779.92},{"s":"MA60","i":84.6,"v":1780.47},{"s":"MA60","i":86.2,"v":1781.03},{"s":"MA60","i":87.8,"v":1781.58},{"s":"MA60","i":89.3,"v":1782.14},{"s":"MA60","i":90.9,"v":1782.64},{"s":"MA60","i":92.5,"v":1783.11},{"s":"MA60","i":94,"v":1783.3},{"s":"MA60","i":95.6,"v":1783.53},{"s":"MA60","i":97.2,"v":1783.8},{"s":"MA60","i":98.7,"v":1784.08},{"s":"MA60","i":100.3,"v":1784.5},{"s":"MA60","i":101.9,"v":1784.92},{"s":"MA60","i":103.5,"v":1785.2},{"s":"MA60","i":105,"v":1785.47},{"s":"MA60","i":106.6,"v":1785.7},{"s":"MA60","i":108.2,"v":1785.9},{"s":"MA60","i":110.2,"v":1786.03},{"s":"MA60","i":112.3,"v":1786.31},{"s":"MA60","i":114.4,"v":1786.72},{"s":"MA60","i":116.5,"v":1787.14},{"s":"MA60","i":118.6,"v":1787.0},{"s":"MA60","i":120.7,"v":1786.81},{"s":"MA60","i":122.8,"v":1786.53},{"s":"MA60","i":124.9,"v":1786.36},{"s":"MA60","i":127,"v":1786.17},{"s":"MA60","i":129.1,"v":1785.81},{"s":"MA60","i":131,"v":1785.5},{"s":"MA60","i":132.2,"v":1785.35},{"s":"MA60","i":134.3,"v":1784.92},{"s":"MA60","i":136.4,"v":1784.22},{"s":"MA60","i":138.5,"v":1783.53},{"s":"MA60","i":140.5,"v":1782.84},{"s":"MA60","i":142.6,"v":1782.28},{"s":"MA60","i":144.7,"v":1781.81},{"s":"MA60","i":146.8,"v":1781.45},{"s":"MA60","i":148.9,"v":1781.25},{"s":"MA60","i":151,"v":1781.17},{"s":"MA60","i":153.1,"v":1781.03},{"s":"MA60","i":154.1,"v":1780.9},{"s":"MA60","i":156.2,"v":1780.75},{"s":"MA60","i":158.3,"v":1780.6},{"s":"MA60","i":160.4,"v":1780.53},{"s":"MA60","i":162.5,"v":1780.48},{"s":"MA60","i":164.6,"v":1780.42},{"s":"MA60","i":166.7,"v":1780.34},{"s":"MA60","i":168.8,"v":1780.06},{"s":"MA60","i":170.8,"v":1779.7},{"s":"MA60","i":172.9,"v":1779.31},{"s":"MA60","i":175,"v":1779.03}
],
"tl": [
{"s":"up","i":41.2,"v":1762.66},{"s":"up","i":178.53,"v":1774.97},
{"s":"lo","i":41.2,"v":1762.66},{"s":"lo","i":177.1,"v":1770.7}
],
"days": [{"i":0},{"i":32},{"i":56},{"i":80},{"i":104},{"i":128},{"i":152}],
"notes": [{"i":81,"v":1797.67,"t":"1797.6700"},{"i":41,"v":1762.66,"t":"1762.6600"}],
"title": [{"i":30.3,"v":1792.22,"t":"现货黄金1小时走势图"}],
"wm": [{"i":96,"v":1778.72,"t":"@金砖汇通"}]
},
"resolve": {"axis": {"y": "independent"}},
"layer": [
{
"data": {"name": "days"},
"mark": {"type": "rule", "strokeDash": [5, 4], "color": "#dedede", "strokeWidth": 1},
"encoding": {
"x": {"field": "i", "type": "quantitative", "scale": {"domain": [-0.31, 178.53], "nice": false, "zero": false}, "axis": null}
}
},
{
"data": {"name": "k"},
"mark": {"type": "rule", "strokeWidth": 1},
"encoding": {
"x": {"field": "i", "type": "quantitative", "scale": {"domain": [-0.31, 178.53], "nice": false, "zero": false}, "axis": null},
"y": {"field": "l", "type": "quantitative", "scale": {"domain": [1759.14, 1799.64], "nice": false, "zero": false},
 "axis": {"orient": "left", "title": null, "format": "d", "values": [1760,1765,1770,1775,1780,1785,1790,1795], "grid": true, "gridColor": "#e8e8e8", "domain": false, "tickSize": 4, "tickColor": "#c8c8c8", "labelFontSize": 15, "labelColor": "#333333", "labelFont": "Liberation Sans", "labelPadding": 2}},
"y2": {"field": "h"},
"color": {"condition": {"test": "datum.c >= datum.o", "value": "#ec4a4f"}, "value": "#4aa852"}
}
},
{
"data": {"name": "k"},
"mark": {"type": "bar", "width": 4, "strokeWidth": 1},
"encoding": {
"x": {"field": "i", "type": "quantitative", "scale": {"domain": [-0.31, 178.53], "nice": false, "zero": false}, "axis": null},
"y": {"field": "o", "type": "quantitative", "scale": {"domain": [1759.14, 1799.64], "nice": false, "zero": false}, "axis": null},
"y2": {"field": "c"},
"fill": {"condition": {"test": "datum.c >= datum.o", "value": "#ffffff"}, "value": "#45a64e"},
"stroke": {"condition": {"test": "datum.c >= datum.o", "value": "#e8363c"}, "value": "#45a64e"}
}
},
{
"data": {"name": "ma"},
"mark": {"type": "line", "strokeWidth": 1.5, "clip": true},
"encoding": {
"x": {"field": "i", "type": "quantitative", "scale": {"domain": [-0.31, 178.53], "nice": false, "zero": false}, "axis": null},
"y": {"field": "v", "type": "quantitative", "scale": {"domain": [1759.14, 1799.64], "nice": false, "zero": false}, "axis": null},
"color": {"field": "s", "type": "nominal", "scale": {"domain": ["MA5","MA10","MA20","MA30","MA60"], "range": ["#ff9a2e","#349cf5","#b23fb6","#33d0ea","#ff6c17"]}, "legend": null},
"order": {"field": "i", "type": "quantitative"}
}
},
{
"data": {"name": "tl"},
"mark": {"type": "line", "strokeWidth": 1.5, "color": "#2323f0", "clip": true},
"encoding": {
"x": {"field": "i", "type": "quantitative", "scale": {"domain": [-0.31, 178.53], "nice": false, "zero": false}, "axis": null},
"y": {"field": "v", "type": "quantitative", "scale": {"domain": [1759.14, 1799.64], "nice": false, "zero": false},
 "axis": {"orient": "right", "title": null, "format": "d", "values": [1760,1765,1770,1775,1780,1785,1790,1795], "grid": false, "domain": true, "domainColor": "#dddddd", "ticks": false, "labelFontSize": 15, "labelColor": "#333333", "labelFont": "Liberation Sans", "labelPadding": 3}},
"detail": {"field": "s", "type": "nominal"}
}
},
{
"data": {"name": "notes"},
"mark": {"type": "text", "align": "left", "baseline": "middle", "dx": 2, "fontSize": 15, "font": "Noto Sans CJK SC", "color": "#222222", "text": "←"},
"encoding": {
"x": {"field": "i", "type": "quantitative", "scale": {"domain": [-0.31, 178.53], "nice": false, "zero": false}, "axis": null},
"y": {"field": "v", "type": "quantitative", "scale": {"domain": [1759.14, 1799.64], "nice": false, "zero": false}, "axis": null}
}
},
{
"data": {"name": "notes"},
"mark": {"type": "text", "align": "left", "baseline": "middle", "dx": 17, "fontSize": 15, "font": "Liberation Sans", "color": "#222222"},
"encoding": {
"x": {"field": "i", "type": "quantitative", "scale": {"domain": [-0.31, 178.53], "nice": false, "zero": false}, "axis": null},
"y": {"field": "v", "type": "quantitative", "scale": {"domain": [1759.14, 1799.64], "nice": false, "zero": false}, "axis": null},
"text": {"field": "t"}
}
},
{
"data": {"name": "title"},
"mark": {"type": "text", "align": "center", "baseline": "middle", "font": "Noto Sans CJK SC", "fontSize": 23, "color": "#ff3322"},
"encoding": {
"x": {"field": "i", "type": "quantitative", "scale": {"domain": [-0.31, 178.53], "nice": false, "zero": false}, "axis": null},
"y": {"field": "v", "type": "quantitative", "scale": {"domain": [1759.14, 1799.64], "nice": false, "zero": false}, "axis": null},
"text": {"field": "t"}
}
},
{
"data": {"name": "wm"},
"mark": {"type": "text", "align": "center", "baseline": "middle", "font": "Noto Sans CJK SC", "fontSize": 22, "color": "#777777"},
"encoding": {
"x": {"field": "i", "type": "quantitative", "scale": {"domain": [-0.31, 178.53], "nice": false, "zero": false}, "axis": null},
"y": {"field": "v", "type": "quantitative", "scale": {"domain": [1759.14, 1799.64], "nice": false, "zero": false}, "axis": null},
"text": {"field": "t"}
}
}
]
}
